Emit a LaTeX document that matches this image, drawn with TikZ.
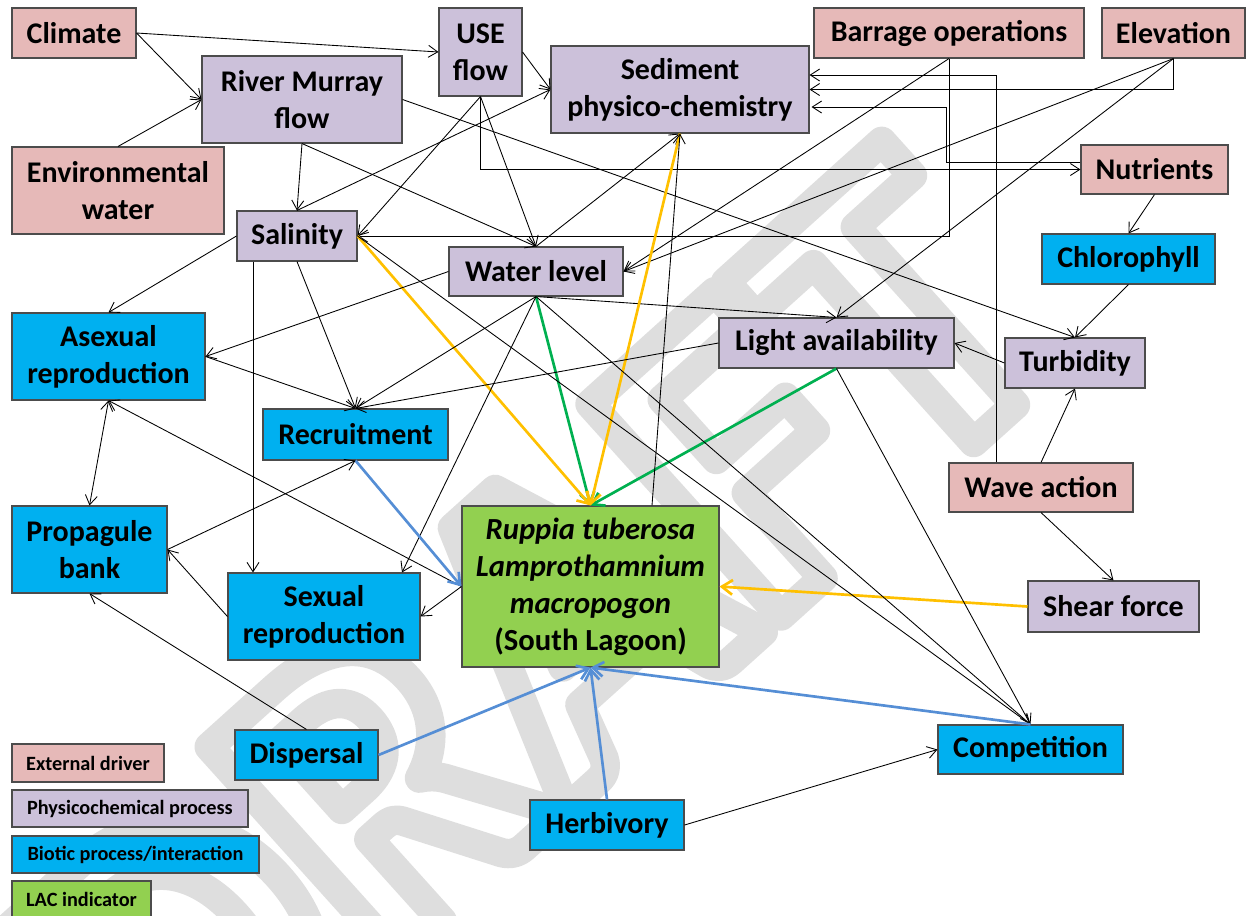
\documentclass[tikz,border=0pt]{standalone}
\usepackage{fontspec}
\setmainfont{Carlito}
\usetikzlibrary{arrows.meta,calc}
\definecolor{extc}{HTML}{E6B9B8}
\definecolor{phyc}{HTML}{CCC1DA}
\definecolor{bioc}{HTML}{00B0F0}
\definecolor{lacc}{HTML}{92D050}
\definecolor{ylw}{HTML}{FFC000}
\definecolor{grn}{HTML}{00B050}
\definecolor{blu}{HTML}{558ED5}
\definecolor{wmark}{HTML}{DEDEDE}
% outlined (stroked) lettering for the watermark
\newcommand\strokedtext[2]{\special{pdf:literal direct 1 Tr #1 w 1 j 1 J}#2\special{pdf:literal direct 0 Tr}}
\begin{document}
\begin{tikzpicture}[x=0.75pt,y=-0.75pt,
  box/.style={draw=black!70, line width=0.8pt, inner sep=0pt, align=center,
    font=\fontsize{22.5}{27.5}\selectfont\bfseries},
  ext/.style={box, fill=extc},
  phy/.style={box, fill=phyc},
  bio/.style={box, fill=bioc},
  lac/.style={box, fill=lacc},
  key/.style={font=\fontsize{15.2}{18}\selectfont\bfseries},
  sz/.style 2 args={minimum width=#1*0.75pt, minimum height=#2*0.75pt},
  lnk/.style={-{Straight Barb[length=7pt,width=9pt]}, line width=0.65pt},
  lnkb/.style={{Straight Barb[length=7pt,width=9pt]}-{Straight Barb[length=7pt,width=9pt]}, line width=0.65pt},
  thick link/.style={-{Straight Barb[length=8pt,width=11pt]}, line width=2pt},
  ylink/.style={thick link, draw=ylw},
  glink/.style={thick link, draw=grn},
  blink/.style={thick link, draw=blu},
]
\useasboundingbox (0,0) rectangle (1246,915);

% watermark behind everything
\node[rotate=42, text=wmark, inner sep=0pt, font=\fontsize{330}{330}\selectfont\bfseries] (wm) at (530,650) {\strokedtext{22}{DRAFT}};

% external drivers
\node[ext, sz={124}{50}] (clim) at (74,33) {Climate};
\node[ext, sz={212}{87}] (env) at (118,190.5) {Environmental\\water};
\node[ext, sz={270}{50}] (bar) at (949,33) {Barrage operations};
\node[ext, sz={143}{50}] (elev) at (1173.5,33) {Elevation};
\node[ext, sz={147}{49}] (nut) at (1154.5,169.5) {Nutrients};
\node[ext, sz={184}{49}] (wave) at (1041,487.5) {Wave action};

% physicochemical processes
\node[phy, sz={83}{88}] (use) at (480.5,52) {USE\\flow};
\node[phy, sz={258}{87}] (sed) at (680,89.5) {Sediment\\physico-chemistry};
\node[phy, sz={200}{87}] (rmf) at (302,99.5) {River Murray\\flow};
\node[phy, sz={120}{50}] (sal) at (297,236) {Salinity};
\node[phy, sz={174}{49}] (wl) at (536,271.5) {Water level};
\node[phy, sz={235}{50}] (light) at (836.5,343) {Light availability};
\node[phy, sz={140}{50}] (turb) at (1075,363) {Turbidity};
\node[phy, sz={171}{51}] (shear) at (1113.5,606.5) {Shear force};

% biotic processes
\node[bio, sz={173}{50}] (chl) at (1128.5,259) {Chlorophyll};
\node[bio, sz={193}{87}] (asex) at (108.5,356.5) {Asexual\\reproduction};
\node[bio, sz={185}{51}] (rec) at (355.5,434.5) {Recruitment};
\node[bio, sz={155}{87}] (prop) at (89.5,549.5) {Propagule\\bank};
\node[bio, sz={192}{87}] (sex) at (324,616.5) {Sexual\\reproduction};
\node[bio, sz={143}{50}] (disp) at (306.5,755) {Dispersal};
\node[bio, sz={185}{49}] (comp) at (1030.5,749.5) {Competition};
\node[bio, sz={154}{50}] (herb) at (607,825) {Herbivory};

% indicator
\node[lac, sz={257}{161}, font=\fontsize{23}{27.8}\selectfont\bfseries] (rup) at (590.5,586.5)
  {\textit{Ruppia tuberosa}\\\textit{Lamprothamnium}\\\textit{macropogon}\\(South Lagoon)};

% key
\node[ext, key, sz={152}{38}] (k1) at (88,763) {External driver};
\node[phy, key, sz={236}{37}] (k2) at (130,808.5) {Physicochemical process};
\node[bio, key, sz={247}{37}] (k3) at (135.5,854.5) {Biotic process/interaction};
\node[lac, key, sz={139}{37}] (k4) at (81.5,899.5) {LAC indicator};

% drivers and flows
\draw[lnk] (clim.east) -- (use.west);
\draw[lnk] (clim.east) -- (rmf.west);
\draw[lnk] (env.north) -- (rmf.west);
\draw[lnk] (use.east) -- (sed.west);
\draw[lnk] (sal.north) -- (sed.west);
\draw[lnk] (use.south) -- (sal.east);
\draw[lnk] (use.south) -- (wl.north);
\draw[lnk] (rmf.south) -- (sal.north);
\draw[lnk] (rmf.south) -- (wl.north);
\draw[lnk] (rmf.east) -- (turb.north);
\draw[lnk] (use.south) |- (nut.west);
\draw[lnk] (wl.north) -- (sed.south);
\draw[lnk] ($(wave.north)+(-45,0)$) |- ($(sed.east)+(0,-14.5)$);
\draw[lnk] (elev.south) |- (sed.east);
\draw[lnk] ($(nut.west)+(0,-7.5)$) -- ++(-134,0) |- ($(sed.east)+(2,17.5)$);
\draw[lnk] (bar.south) |- (sal.east);
\draw[lnk] (bar.south) -- (wl.east);
\draw[lnk] (elev.south) -- (wl.east);
\draw[lnk] (elev.south) -- (light.north);
\draw[lnk] (wl.south) -- (light.north);
\draw[lnk] (nut.south) -- (chl.north);
\draw[lnk] (chl.south) -- (turb.north);
\draw[lnk] (turb.west) -- (light.east);
\draw[lnk] (wave.north) -- (turb.south);
\draw[lnk] (wave.south) -- (shear.north);

% links into the indicator
\draw[ylink] (shear.west) -- (rup.east);
\draw[glink] (light.south) -- (rup.north);
\draw[glink] (wl.south) -- (rup.north);
\draw[ylink] (sal.east) -- (rup.north);
\draw[ylink] (sed.south) -- (rup.north);
\draw[lnk] ($(rup.north)+(61.5,0)$) -- (sed.south);

% biotic links
\draw[lnk] (light.south) -- (comp.north);
\draw[lnk] (light.west) -- (rec.north);
\draw[lnk] (wl.south) -- (comp.north);
\draw[lnk] (sal.east) -- (comp.north);
\draw[lnk] (wl.west) -- (asex.east);
\draw[lnk] (sal.west) -- (asex.north);
\coordinate (salb) at ($(sal.south)+(-44,0)$);
\draw[lnk] (salb) -- (salb |- sex.north);
\draw[lnk] (sal.south) -- (rec.north);
\draw[lnk] (asex.east) -- (rec.north);
\draw[lnk] (wl.south) -- (rec.north);
\draw[lnk] (wl.south) -- ($(sex.north)+(78,0)$);
\draw[lnk] (rup.west) -- (sex.east);
\draw[lnk] (rup.west) -- (asex.south);
\draw[blink] (rec.south) -- (rup.west);
\draw[lnkb] (asex.south) -- (prop.north);
\draw[lnk] (prop.east) -- (rec.south);
\draw[lnk] (sex.west) -- (prop.east);
\draw[lnk] (disp.north) -- (prop.south);
\draw[blink] (disp.east) -- (rup.south);
\draw[blink] (herb.north) -- (rup.south);
\draw[blink] (comp.north) -- (rup.south);
\draw[lnk] (herb.east) -- (comp.west);
\end{tikzpicture}
\end{document}
